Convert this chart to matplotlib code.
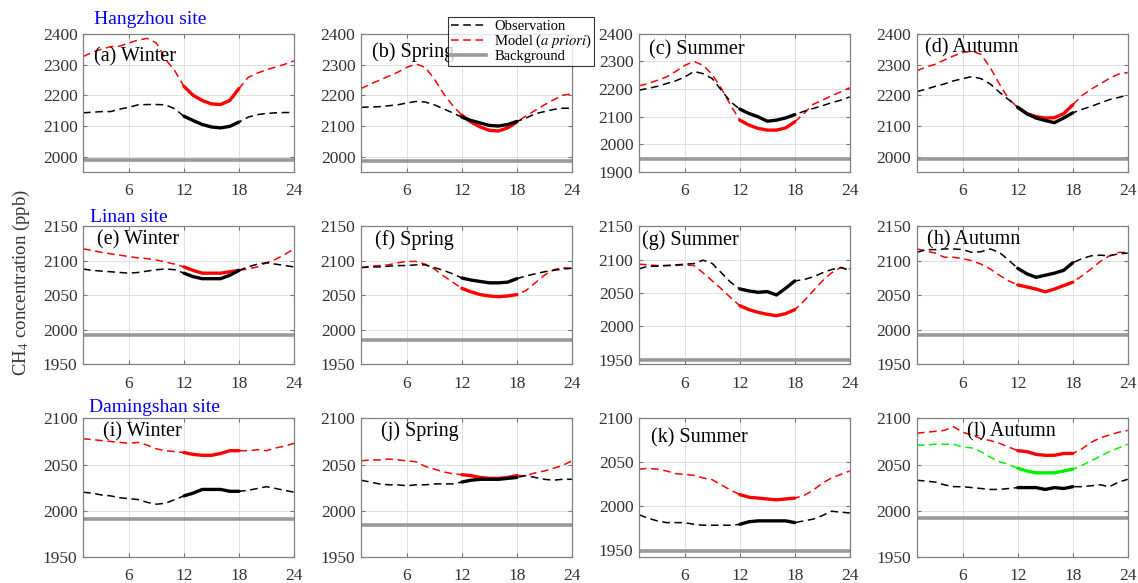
import matplotlib
matplotlib.use("Agg")
import matplotlib.pyplot as plt
from matplotlib.lines import Line2D

plt.rcParams['font.family'] = ['Liberation Serif', 'DejaVu Serif']
plt.rcParams['mathtext.fontset'] = 'stix'

hours = list(range(1, 25))

# Hangzhou
obs_a = [2143, 2145, 2147, 2147, 2155, 2161, 2169, 2170, 2170, 2169, 2156, 2132,
         2118, 2105, 2097, 2094, 2099, 2113, 2129, 2137, 2141, 2143, 2144, 2144]
mod_a = [2326, 2340, 2350, 2358, 2360, 2370, 2380, 2385, 2370, 2317, 2280, 2229,
         2200, 2183, 2172, 2170, 2183, 2222, 2258, 2272, 2283, 2292, 2301, 2312]
obs_b = [2161, 2162, 2163, 2166, 2169, 2175, 2180, 2178, 2169, 2156, 2143, 2129,
         2118, 2110, 2102, 2100, 2105, 2115, 2126, 2140, 2147, 2154, 2158, 2158]
mod_b = [2222, 2236, 2249, 2262, 2275, 2291, 2302, 2291, 2253, 2205, 2167, 2135,
         2113, 2097, 2086, 2084, 2094, 2113, 2133, 2151, 2169, 2185, 2200, 2205]
obs_c = [2196, 2203, 2210, 2220, 2230, 2244, 2264, 2256, 2238, 2196, 2154, 2128,
         2112, 2100, 2084, 2088, 2096, 2108, 2120, 2130, 2140, 2151, 2160, 2172]
mod_c = [2212, 2220, 2232, 2244, 2264, 2286, 2300, 2286, 2253, 2202, 2142, 2088,
         2070, 2058, 2052, 2052, 2060, 2082, 2112, 2145, 2160, 2176, 2190, 2205]
obs_d = [2212, 2220, 2229, 2237, 2247, 2254, 2261, 2254, 2237, 2210, 2186, 2161,
         2140, 2126, 2118, 2111, 2126, 2143, 2154, 2164, 2175, 2186, 2193, 2201]
mod_d = [2280, 2292, 2301, 2315, 2328, 2339, 2344, 2333, 2290, 2237, 2188, 2161,
         2140, 2131, 2126, 2127, 2140, 2169, 2199, 2220, 2237, 2255, 2269, 2274]

# Linan
obs_e = [2088, 2086, 2085, 2084, 2083, 2082, 2083, 2085, 2087, 2088, 2087, 2082,
         2077, 2074, 2074, 2074, 2079, 2086, 2091, 2095, 2097, 2095, 2093, 2091]
mod_e = [2117, 2115, 2112, 2110, 2108, 2106, 2104, 2103, 2101, 2098, 2095, 2091,
         2086, 2082, 2082, 2082, 2084, 2086, 2088, 2091, 2097, 2102, 2109, 2117]
obs_f = [2090, 2091, 2091, 2092, 2093, 2093, 2094, 2094, 2090, 2086, 2081, 2075,
         2072, 2070, 2068, 2068, 2069, 2074, 2078, 2081, 2084, 2086, 2088, 2089]
mod_f = [2090, 2092, 2093, 2094, 2097, 2099, 2099, 2095, 2088, 2078, 2069, 2060,
         2055, 2051, 2049, 2048, 2049, 2051, 2057, 2068, 2079, 2087, 2090, 2089]
obs_g = [2086, 2090, 2090, 2091, 2092, 2093, 2094, 2099, 2094, 2080, 2066, 2056,
         2053, 2051, 2052, 2047, 2057, 2068, 2070, 2074, 2080, 2085, 2088, 2084]
mod_g = [2093, 2092, 2091, 2091, 2091, 2092, 2091, 2080, 2068, 2056, 2043, 2031,
         2025, 2021, 2018, 2016, 2019, 2025, 2038, 2053, 2068, 2080, 2088, 2086]
obs_h = [2112, 2116, 2116, 2117, 2117, 2116, 2112, 2113, 2117, 2112, 2101, 2089,
         2081, 2076, 2079, 2082, 2086, 2097, 2103, 2107, 2108, 2107, 2110, 2111]
mod_h = [2117, 2114, 2111, 2105, 2105, 2103, 2100, 2095, 2088, 2079, 2071, 2065,
         2062, 2059, 2055, 2059, 2064, 2069, 2078, 2088, 2099, 2107, 2112, 2112]

# Damingshan
obs_i = [2020, 2019, 2017, 2016, 2014, 2013, 2012, 2009, 2007, 2008, 2012, 2016,
         2019, 2023, 2023, 2023, 2021, 2021, 2022, 2024, 2026, 2024, 2022, 2020]
mod_i = [2078, 2077, 2076, 2075, 2074, 2073, 2074, 2071, 2067, 2065, 2064, 2063,
         2061, 2060, 2060, 2062, 2065, 2065, 2065, 2066, 2065, 2068, 2070, 2073]
obs_j = [2033, 2031, 2029, 2028, 2028, 2027, 2028, 2028, 2029, 2029, 2029, 2031,
         2033, 2034, 2034, 2034, 2035, 2036, 2038, 2036, 2034, 2033, 2034, 2034]
mod_j = [2054, 2055, 2055, 2056, 2055, 2054, 2053, 2048, 2045, 2042, 2040, 2039,
         2038, 2036, 2035, 2035, 2036, 2038, 2038, 2041, 2043, 2046, 2049, 2054]
obs_k = [1990, 1986, 1983, 1981, 1981, 1981, 1979, 1978, 1978, 1978, 1978, 1979,
         1982, 1983, 1983, 1983, 1983, 1981, 1983, 1985, 1989, 1994, 1993, 1992]
mod_k = [2042, 2043, 2042, 2040, 2037, 2036, 2035, 2032, 2030, 2024, 2018, 2013,
         2010, 2009, 2008, 2007, 2008, 2009, 2012, 2018, 2026, 2032, 2036, 2040]
obs_l = [2033, 2032, 2031, 2028, 2026, 2026, 2025, 2024, 2023, 2023, 2024, 2025,
         2025, 2025, 2023, 2025, 2024, 2026, 2026, 2027, 2028, 2026, 2031, 2034]
mod_l = [2084, 2085, 2086, 2087, 2091, 2085, 2082, 2078, 2076, 2073, 2069, 2065,
         2064, 2061, 2060, 2060, 2062, 2062, 2067, 2074, 2079, 2082, 2085, 2087]
post_l = [2071, 2071, 2072, 2072, 2072, 2069, 2068, 2064, 2058, 2053, 2050, 2046,
          2043, 2041, 2041, 2041, 2043, 2045, 2049, 2054, 2059, 2064, 2068, 2072]

background = [1991, 1986, 1949, 1992,
              1992, 1986, 1949, 1993,
              1991, 1984, 1949, 1992]

panel_titles = ['(a) Winter', '(b) Spring', '(c) Summer', '(d) Autumn',
                '(e) Winter', '(f) Spring', '(g) Summer', '(h) Autumn',
                '(i) Winter', '(j) Spring', '(k) Summer', '(l) Autumn']
site_names = ['Hangzhou site', 'Linan site', 'Damingshan site']
y_limits = [(1950, 2400), (1950, 2400), (1900, 2400), (1950, 2400),
            (1950, 2150), (1950, 2150), (1943, 2150), (1950, 2150),
            (1950, 2100), (1950, 2100), (1942, 2100), (1950, 2100)]
y_ticks = [range(2000, 2401, 100), range(2000, 2401, 100), range(1900, 2401, 100), range(2000, 2401, 100),
           range(1950, 2151, 50), range(1950, 2151, 50), range(1950, 2151, 50), range(1950, 2151, 50),
           range(1950, 2101, 50), range(1950, 2101, 50), range(1950, 2101, 50), range(1950, 2101, 50)]

obs_list = [obs_a, obs_b, obs_c, obs_d, obs_e, obs_f, obs_g, obs_h, obs_i, obs_j, obs_k, obs_l]
mod_list = [mod_a, mod_b, mod_c, mod_d, mod_e, mod_f, mod_g, mod_h, mod_i, mod_j, mod_k, mod_l]

# label positions (axes fraction)
label_pos = [(0.05, 0.835), (0.05, 0.87), (0.05, 0.885), (0.04, 0.9),
             (0.067, 0.9), (0.066, 0.9), (0.015, 0.9), (0.05, 0.9),
             (0.095, 0.905), (0.095, 0.905), (0.057, 0.86), (0.24, 0.905)]

DASH = (5, 3)


def draw_series(ax, y, color):
    ax.plot(hours, y, color=color, lw=1.1, dashes=DASH)
    ax.plot(hours[11:18], y[11:18], color=color, lw=2.4, solid_capstyle='round')


fig, axes = plt.subplots(3, 4, figsize=(11.38, 5.83), dpi=100)
fig.subplots_adjust(left=0.073, right=0.991, top=0.942, bottom=0.045,
                    wspace=0.318, hspace=0.39)

for i, ax in enumerate(axes.flat):
    ax.grid(True, color='0.88', lw=0.7)
    ax.set_axisbelow(True)
    ax.axhline(background[i], color='0.6', lw=2.6)
    draw_series(ax, mod_list[i], 'red')
    if i == 11:
        draw_series(ax, post_l, (0, 0.95, 0))
    draw_series(ax, obs_list[i], 'black')
    ax.set_xlim(1, 24)
    ax.set_xticks([6, 12, 18, 24])
    ax.set_ylim(*y_limits[i])
    ax.set_yticks(list(y_ticks[i]))
    ax.tick_params(direction='in', length=3, top=True, right=True,
                   labelsize=12.5, colors='0.45', labelcolor='0.2')
    ax.tick_params(axis='x', pad=8)
    ax.tick_params(axis='y', pad=4)
    for sp in ax.spines.values():
        sp.set_color('0.5')
        sp.set_linewidth(0.9)
    lx, ly = label_pos[i]
    ax.text(lx, ly, panel_titles[i], transform=ax.transAxes, fontsize=14.5,
            va='center', ha='left')

site_offsets = [(0.05, 1.10), (0.035, 1.065), (0.03, 1.08)]
for r in range(3):
    sx, sy = site_offsets[r]
    axes[r, 0].text(sx, sy, site_names[r], transform=axes[r, 0].transAxes,
                    color='blue', fontsize=14, va='center', ha='left')

fig.text(0.019, 0.515, 'CH$_4$ concentration (ppb)', rotation=90,
         fontsize=13.5, va='center', ha='center', color='0.2')

handles = [Line2D([], [], color='black', lw=1.1, dashes=DASH),
           Line2D([], [], color='red', lw=1.1, dashes=DASH),
           Line2D([], [], color='0.6', lw=2.6)]
labels = ['Observation', 'Model ($\\it{a\\ priori}$)', 'Background']
leg = fig.legend(handles, labels, loc='upper left', bbox_to_anchor=(0.394, 0.97),
                 fontsize=10.5, frameon=True, fancybox=False, edgecolor='black',
                 handlelength=2.4, labelspacing=0.0, borderpad=0.15,
                 handletextpad=0.6, borderaxespad=0)
leg.get_frame().set_linewidth(0.8)

fig.savefig('out.png', dpi=100)
